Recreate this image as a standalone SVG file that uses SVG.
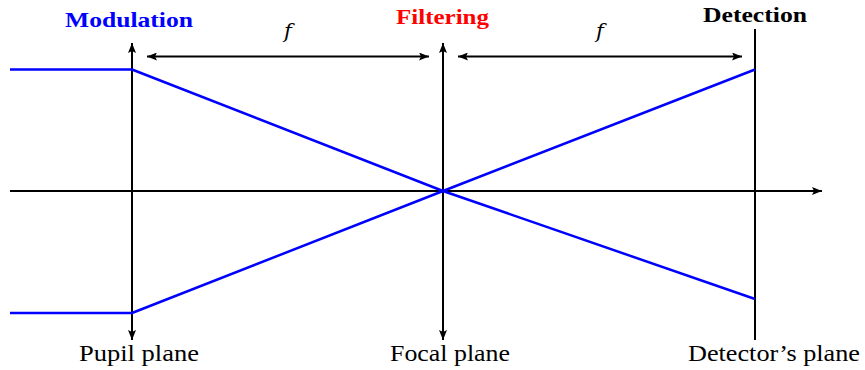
<svg xmlns="http://www.w3.org/2000/svg" width="865" height="370" viewBox="0 0 865 370">
<style>
.ax{stroke:#000;stroke-width:2;fill:none}
.ray{stroke:#0000ff;stroke-width:2.5;fill:none;stroke-linejoin:round}
.t{font-family:"Liberation Serif","DejaVu Serif",serif;font-size:21px}
.b{font-weight:bold}
.l{font-size:23px}
.f{font-family:"DejaVu Serif","Liberation Serif",serif;font-style:italic;font-size:21px}
</style>
<defs>
<marker id="ah" viewBox="0 0 10 8" refX="10" refY="4" markerWidth="10" markerHeight="8" markerUnits="userSpaceOnUse" orient="auto">
<path d="M0,0 L10,4 L0,8 L2,4 Z" fill="#000"/>
</marker>
</defs>
<g id="connectors">
<line class="ax" x1="10" y1="191" x2="822" y2="191" marker-end="url(#ah)"/>
<line class="ax" x1="132" y1="191" x2="132" y2="43" marker-end="url(#ah)"/>
<line class="ax" x1="132" y1="191" x2="132" y2="340" marker-end="url(#ah)"/>
<line class="ax" x1="443" y1="191" x2="443" y2="43" marker-end="url(#ah)"/>
<line class="ax" x1="443" y1="191" x2="443" y2="340" marker-end="url(#ah)"/>
<line class="ax" x1="755" y1="29" x2="755" y2="340"/>
<line class="ax" x1="288" y1="56.5" x2="147" y2="56.5" marker-end="url(#ah)"/>
<line class="ax" x1="288" y1="56.5" x2="429" y2="56.5" marker-end="url(#ah)"/>
<line class="ax" x1="600" y1="56.5" x2="458" y2="56.5" marker-end="url(#ah)"/>
<line class="ax" x1="600" y1="56.5" x2="742" y2="56.5" marker-end="url(#ah)"/>
<polyline class="ray" points="10,69.5 132,69.5 443,191 755,299"/>
<polyline class="ray" points="10,313 132,313 443,191 755,69.5"/>
</g>
<g id="modulation"><text class="t b" x="129" y="27" text-anchor="middle" fill="#0000ff" textLength="128" lengthAdjust="spacingAndGlyphs">Modulation</text></g>
<g id="filtering"><text class="t b" x="442.5" y="24" text-anchor="middle" fill="#ff0000" textLength="93" lengthAdjust="spacingAndGlyphs">Filtering</text></g>
<g id="detection"><text class="t b" x="755" y="22" text-anchor="middle" fill="#000" textLength="104" lengthAdjust="spacingAndGlyphs">Detection</text></g>
<g id="f1"><text class="f" x="288" y="38" text-anchor="middle">f</text></g>
<g id="f2"><text class="f" x="600" y="38" text-anchor="middle">f</text></g>
<g id="pupil"><text class="t l" x="139" y="361" text-anchor="middle" textLength="120" lengthAdjust="spacingAndGlyphs">Pupil plane</text></g>
<g id="focal"><text class="t l" x="450" y="361" text-anchor="middle" textLength="120" lengthAdjust="spacingAndGlyphs">Focal plane</text></g>
<g id="detector"><text class="t l" x="774" y="361" text-anchor="middle" textLength="172" lengthAdjust="spacingAndGlyphs">Detector’s plane</text></g>
</svg>
